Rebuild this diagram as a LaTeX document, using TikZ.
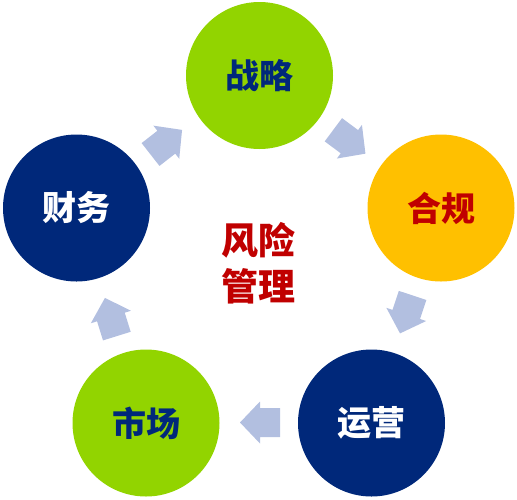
\documentclass[tikz,border=0pt]{standalone}
\usepackage{fontspec}
\newfontfamily\cjk{Noto Sans CJK SC}
\definecolor{cgreen}{HTML}{92D400}
\definecolor{cyellow}{HTML}{FFC000}
\definecolor{cnavy}{HTML}{00287A}
\definecolor{cred}{HTML}{C00000}
\definecolor{carrow}{HTML}{B2BFE0}
\tikzset{
  disc/.style={circle, minimum size=147pt, inner sep=0pt, font=\cjk\bfseries\fontsize{34}{40}\selectfont},
  blkarrow/.pic={\fill[carrow] (-20,-14.5) -- (0,-14.5) -- (0,-21) -- (20,0) -- (0,21) -- (0,14.5) -- (-20,14.5) -- cycle;}
}
\begin{document}
\begin{tikzpicture}[x=1pt,y=-1pt]
\useasboundingbox (0,0) rectangle (517,499);
\node[disc, fill=cgreen, text=cnavy] (zl) at (259.5,75.5) {战略};
\node[disc, fill=cyellow, text=cred] (hg) at (441,208) {合规};
\node[disc, fill=cnavy, text=white] (yy) at (371.5,423) {运营};
\node[disc, fill=cgreen, text=cnavy] (sc) at (146,423) {市场};
\node[disc, fill=cnavy, text=white] (cw) at (76.5,208) {财务};
\node[align=center, text=cred, font=\cjk\bfseries\fontsize{37}{46}\selectfont] (fx) at (258,263) {风险\\管理};
\pic[rotate=38] at (166.3,142.2) {blkarrow};
\pic[rotate=-36.7] at (349.4,141.7) {blkarrow};
\pic[rotate=-108.3] at (406.3,314.4) {blkarrow};
\pic[rotate=180] at (260,422.5) {blkarrow};
\pic[rotate=107.3] at (110.9,317) {blkarrow};
\end{tikzpicture}
\end{document}
